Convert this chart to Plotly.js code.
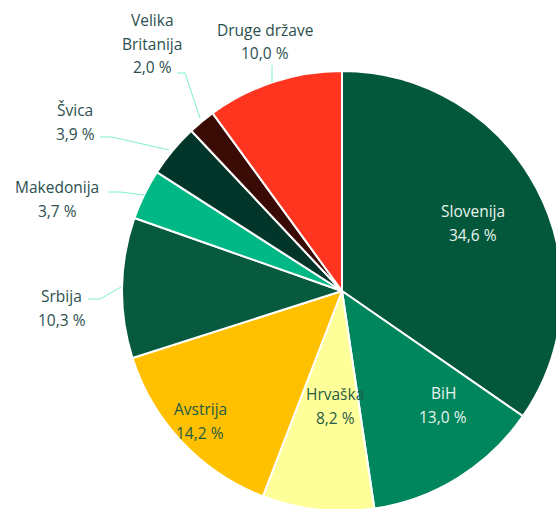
<!DOCTYPE html>
<html><head><meta charset="utf-8">
<script src="https://cdn.plot.ly/plotly-3.0.1.min.js"></script>
<style>html,body{margin:0;padding:0;overflow:hidden;background:#fff;width:556px;height:509px}#c{width:700px;height:600px}</style>
</head><body><div id="c"></div>
<script>
const labels = ["Slovenija","BiH","Hrvaška","Avstrija","Srbija","Makedonija","Švica","Velika Britanija","Druge države"];
const values = [34.6,13.0,8.2,14.2,10.3,3.7,3.9,2.0,10.0];
const nameLines = [["Slovenija"],["BiH"],["Hrvaška"],["Avstrija"],["Srbija"],["Makedonija"],["Švica"],["Velika","Britanija"],["Druge države"]];
const colors = ["#03573b","#00865c","#ffff99","#ffc000","#075a3d","#00b886","#02362a","#3a0b04","#ff3520"];

const W=700,H=600;
const px = x => x/W, py = y => 1 - y/H;
// label positions: x center, y of first line center (pixels); text colours
const labelPos = [[473,211],[443,393],[335,394],[200,409],[62,296],[57,187],[75,110],[152,20],[265,30]];
const labelCol = ["#e8f5ee","#e8f5ee","#1f5c45","#1f5c45","#2b4f4f","#2b4f4f","#2b4f4f","#2b4f4f","#2b4f4f"];
const lineGap = 23.5;
const fmt = v => v.toFixed(1).replace('.', ',') + ' %';

const annotations = [];
labels.forEach((l,i)=>{
  const lines = nameLines[i].concat([fmt(values[i])]);
  lines.forEach((t,j)=>annotations.push({
    xref:'paper', yref:'paper', x:px(labelPos[i][0]), y:py(labelPos[i][1]+j*lineGap),
    xanchor:'center', yanchor:'middle', showarrow:false, align:'center', text:t,
    font:{family:'Open Sans, sans-serif', size:15.5, color:labelCol[i]}
  }));
});

const leaders = [
  [[88,299],[100,299],[121,287]],
  [[108,192],[120,192],[144,195]],
  [[100,137],[112,137],[169,150]],
  [[177,73],[185,73],[200,118]],
  [[272,65],[272,82]]
];
const shapes = leaders.map(pts=>({
  type:'path', xref:'paper', yref:'paper',
  path: pts.map((p,j)=>(j?'L':'M')+px(p[0])+','+py(p[1])).join(' '),
  line:{color:'#7ff0d0', width:1}
}));

Plotly.newPlot('c',[{
  type:'pie', labels:labels, values:values, sort:false, direction:'clockwise', rotation:0,
  marker:{colors:colors, line:{color:'#ffffff', width:2}},
  textinfo:'none', hoverinfo:'label+percent',
  domain:{x:[122/W, 562/W], y:[(H-291-220)/H, (H-291+220)/H]}
}],{
  width:W, height:H, margin:{l:0,r:0,t:0,b:0}, showlegend:false,
  paper_bgcolor:'#fff', annotations:annotations, shapes:shapes
},{displayModeBar:false, staticPlot:true});
</script></body></html>
